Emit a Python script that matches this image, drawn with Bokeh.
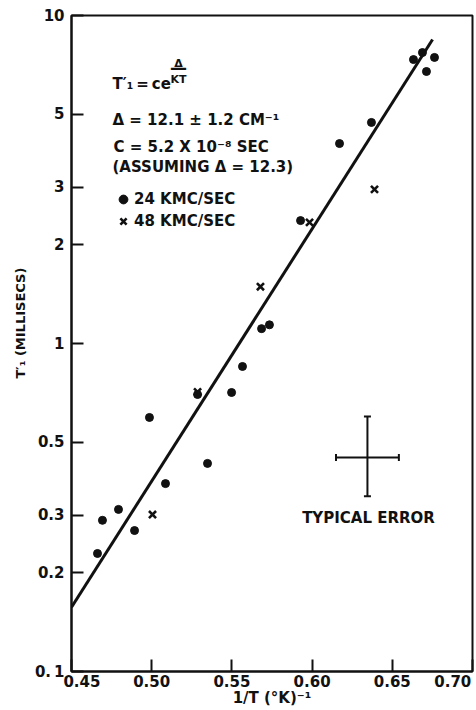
from bokeh.plotting import figure
from bokeh.models import (ColumnDataSource, FixedTicker, CustomJSTickFormatter, Label,
                          Legend, LegendItem, Whisker, TeeHead)
from bokeh.embed import file_html
from bokeh.resources import INLINE

# ---------------- data ----------------
dots_x = [0.4662, 0.4693, 0.4793, 0.4893, 0.5086, 0.5348, 0.4986, 0.5286, 0.5498,
          0.5566, 0.5685, 0.5734, 0.5928, 0.6171, 0.6370, 0.6632, 0.6688, 0.6713, 0.6763]
dots_y = [0.229, 0.289, 0.312, 0.269, 0.374, 0.431, 0.595, 0.699, 0.709,
          0.851, 1.11, 1.14, 2.37, 4.07, 4.72, 7.34, 7.71, 6.75, 7.45]

cross_x = [0.5005, 0.5286, 0.5678, 0.5984, 0.6389]
cross_y = [0.301, 0.712, 1.49, 2.34, 2.95]

fit_x = [0.45, 0.6751]
fit_y = [0.157, 8.45]

err_x = [0.6345]
err_y = [0.449]
err_x_lo = [0.6149]
err_x_hi = [0.6541]
err_y_lo = [0.342]
err_y_hi = [0.599]

x_tick_vals = [0.45, 0.50, 0.55, 0.60, 0.65, 0.70]
x_tick_labels = ["0.45", "0.50", "0.55", "0.60", "0.65", "0.70"]
y_tick_vals = [0.1, 0.2, 0.3, 0.5, 1, 2, 3, 5, 10]
y_tick_labels = ["0.\u20091", "0.2", "0.3", "0.5", "1", "2", "3", "5", "10"]

series_names = ["24 KMC/SEC", "48 KMC/SEC"]

# ---------------- figure ----------------
FONT = "DejaVu Sans"
INK = "#111111"
NB = "\u00a0"

p = figure(width=476, height=710, output_backend="svg", toolbar_location=None,
           y_axis_type="log", x_range=(0.45, 0.70), y_range=(0.1, 10),
           min_border_left=71, min_border_right=4, min_border_top=15, min_border_bottom=39)
p.background_fill_color = "white"
p.border_fill_color = "white"
p.outline_line_color = INK
p.outline_line_width = 2
p.grid.visible = False

# frame -> pixel helpers for placing annotation text
FL, FR, FT, FB = 71, 472, 15, 671
def px2x(px):
    return 0.45 + (px - FL) * (0.70 - 0.45) / (FR - FL)
def py2y(py):
    return 10 ** (1 - 2 * (py - FT) / (FB - FT))

for ax in (p.xaxis[0], p.yaxis[0]):
    ax.axis_line_color = INK
    ax.axis_line_width = 2
    ax.major_tick_line_color = INK
    ax.major_tick_line_width = 2
    ax.major_tick_in = 12
    ax.major_tick_out = 0
    ax.minor_tick_line_color = None
    ax.major_label_text_font = FONT
    ax.major_label_text_font_style = "bold"
    ax.major_label_text_font_size = "15px"
    ax.major_label_text_color = INK
    ax.axis_label_text_font = FONT
    ax.axis_label_text_font_style = "bold"
    ax.axis_label_text_font_size = "15px"
    ax.axis_label_text_color = INK

# first and last x labels sit inside the frame edges in the reference
p.xaxis.ticker = FixedTicker(ticks=x_tick_vals, minor_ticks=[])
p.xaxis.formatter = CustomJSTickFormatter(
    args=dict(vals=x_tick_vals, labs=x_tick_labels), code="""
    const n = vals.length;
    for (let i = 0; i < n; i++) {
        if (Math.abs(tick - vals[i]) < 1e-6) {
            if (i == 0) return "\\u00a0\\u00a0\\u00a0\\u00a0" + labs[i];
            if (i == n - 1) return labs[i] + "\\u00a0";
            return labs[i];
        }
    }
    return "";
""")
p.xaxis.major_label_standoff = 1
p.xaxis.axis_label = "1/T (\u00b0K)\u207b\u00b9"
p.xaxis.axis_label_standoff = -5

p.yaxis.ticker = FixedTicker(ticks=y_tick_vals, minor_ticks=[])
p.yaxis.formatter = CustomJSTickFormatter(
    args=dict(vals=y_tick_vals, labs=y_tick_labels), code="""
    for (let i = 0; i < vals.length; i++) {
        if (Math.abs(Math.log10(tick) - Math.log10(vals[i])) < 1e-6) return labs[i];
    }
    return "";
""")
p.yaxis.major_label_standoff = 7
# leading no-break spaces move the (rotated) label up, as in the reference
p.yaxis.axis_label = NB * 10 + "T\u2032\u2081  (MILLISECS)"
p.yaxis.axis_label_text_font_size = "13px"
p.yaxis.axis_label_standoff = 4

# ---------------- marks ----------------
p.line(fit_x, fit_y, line_color=INK, line_width=3)
r_dot = p.scatter(dots_x, dots_y, marker="circle", size=8, fill_color=INK, line_color=INK)
r_x = p.scatter(cross_x, cross_y, marker="x", size=10, line_color=INK, line_width=2.6)

esrc = ColumnDataSource(dict(x=err_x, y=err_y, xlo=err_x_lo, xhi=err_x_hi,
                             ylo=err_y_lo, yhi=err_y_hi))
head = dict(size=7, line_color=INK, line_width=2)
p.add_layout(Whisker(source=esrc, base="x", lower="ylo", upper="yhi", dimension="height",
                     line_color=INK, line_width=2,
                     lower_head=TeeHead(**head), upper_head=TeeHead(**head)))
p.add_layout(Whisker(source=esrc, base="y", lower="xlo", upper="xhi", dimension="width",
                     line_color=INK, line_width=2,
                     lower_head=TeeHead(**head), upper_head=TeeHead(**head)))

# ---------------- legend ----------------
legend = Legend(items=[LegendItem(label=series_names[0], renderers=[r_dot]),
                       LegendItem(label=series_names[1], renderers=[r_x])],
                location=(41, FB - 232), padding=0, margin=0, spacing=-3,
                glyph_width=22, glyph_height=22, label_height=22, label_standoff=0,
                border_line_color=None, background_fill_alpha=0,
                label_text_font=FONT, label_text_font_style="bold",
                label_text_font_size="15px", label_text_color=INK)
p.add_layout(legend)

# ---------------- annotation texts ----------------
def txt(px, py, s, size="15px", align="left", baseline="alphabetic"):
    p.add_layout(Label(x=px2x(px), y=py2y(py), text=s, text_align=align,
                       text_baseline=baseline, text_font=FONT, text_font_style="bold",
                       text_font_size=size, text_color=INK))

txt(112, 83, "T\u2032\u2081\u2009=\u2009ce", size="15px")
txt(178, 63, "\u0394", size="11px", align="center")
txt(178, 67, "\u2014", size="17px", align="center", baseline="middle")
txt(178, 79, "KT", size="11px", align="center")
txt(112, 119, "\u0394 = 12.1 \u00b1 1.2 CM\u207b\u00b9")
txt(113, 146, "C = 5.2 X 10\u207b\u2078 SEC")
txt(112, 166, "(ASSUMING \u0394 = 12.3)")
txt(368, 517, "TYPICAL ERROR", align="center", baseline="middle")

open("out.html", "w").write(file_html(p, INLINE))
